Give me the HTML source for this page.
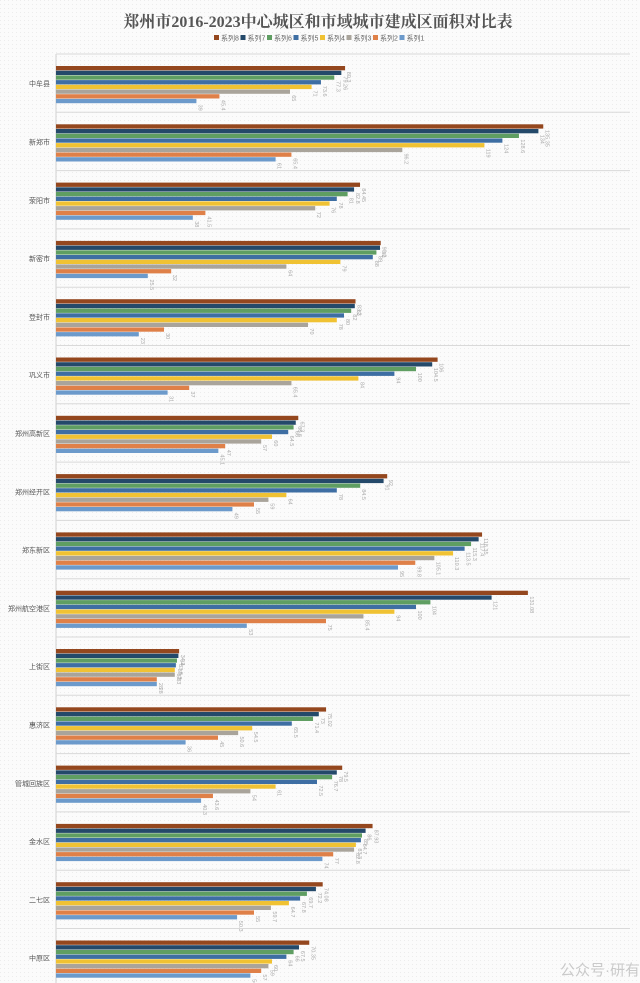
<!DOCTYPE html>
<html><head><meta charset="utf-8"><style>
html,body{margin:0;padding:0;background:#fff;}
body{width:640px;height:983px;overflow:hidden;font-family:"Liberation Sans","Noto Sans CJK SC",sans-serif;}
svg{display:block}
</style></head><body>
<svg id="chart" width="640" height="983" viewBox="0 0 640 983" xmlns="http://www.w3.org/2000/svg">
<defs><pattern id="dots" width="4" height="4" patternUnits="userSpaceOnUse"><rect width="4" height="4" fill="#fbfbfb"/><rect width="1" height="1" fill="#ececec"/></pattern></defs>
<rect x="0" y="0" width="640" height="983" fill="url(#dots)"/>
<text x="318" y="27" text-anchor="middle" font-size="16" font-weight="bold" fill="#555" font-family="'Liberation Serif','Noto Serif CJK SC',serif">郑州市2016-2023中心城区和市域城市建成区面积对比表</text>
<g id="legend"></g>
<g id="plot"></g>
<text x="600" y="975" text-anchor="middle" font-size="15" fill="#aaa" opacity="0.6">公众号·研有</text>
</svg>
<script>
const categories=["中牟县","新郑市","荥阳市","新密市","登封市","巩义市","郑州高新区","郑州经开区","郑东新区","郑州航空港区","上街区","惠济区","管城回族区","金水区","二七区","中原区"];
const seriesNames=["系列8","系列7","系列6","系列5","系列4","系列3","系列2","系列1"];
const s8=[80.3,135.35,84.45,90.2,83.2,106,67.3,92,118.35,131.08,34.2,75.02,79.5,87.93,74.08,70.35];
const s7=[79.26,134,82.8,90,83,104.5,66.6,91,117.4,121,34,73,78,86,72.2,67.5];
const s6=[77.3,128.6,81,89,82,100,66,84.5,115.3,104,33.6,71.4,76.7,85,69.7,66];
const s5=[73.6,124,78,88,80,94,64.5,78,113.5,100,33.3,65.5,72.5,84.7,67.8,64];
const s4=[71,119,76,79,78,84,60,64,110.3,94,33,54.5,61,83.3,64.7,60];
const s3=[65,96.2,72,64,70,65.4,57,59,105.1,85.4,33,50.6,54,82.8,59.7,59];
const s2=[45.4,65.4,41.5,32,30,37,47,55,99.8,75,28,45,43.6,77,55,57];
const s1=[39,61,38,25.5,23,31,45.1,49,95,53,28,36,40.3,74,50.3,54];
const seriesValues=[s8,s7,s6,s5,s4,s3,s2,s1];
const colors=["#94471e","#24496a","#5f9e62","#3e6ea3","#f0c233","#a9a49b","#df8048","#6c9acb"];
const NS="http://www.w3.org/2000/svg";
const x0=56, xs=3.6, top0=54, gh=58.3, bh=4.7, boff=12;
const X=v=>x0+v*xs;
const GY=i=>top0+i*gh;
function mk(t,a,p){const e=document.createElementNS(NS,t);for(const k in a)e.setAttribute(k,a[k]);p.appendChild(e);return e;}
const plot=document.getElementById('plot');
const leg=document.getElementById('legend');
let lx=214;
seriesNames.forEach((n,i)=>{
  const r=mk('rect',{x:lx,y:35,width:5,height:5,fill:colors[i]},leg);
  
  
  const t=mk('text',{x:lx+7,y:40.5,'font-size':7,fill:'#666'},leg);
  t.textContent=n;
  
  
  lx+=26.5;
});
const ax=mk('line',{x1:x0,y1:top0,x2:x0,y2:983,stroke:'#d0d0d0','stroke-width':1},plot);


categories.forEach((c,i)=>{
  const sep=mk('line',{x1:x0,y1:GY(i),x2:630,y2:GY(i),stroke:'#d9d9d9','stroke-width':1},plot);
  
  
  const lab=mk('text',{x:50,y:GY(i)+gh/2+3,'text-anchor':'end','font-size':7,fill:'#555'},plot);
  lab.textContent=c;
  
  
  seriesValues.forEach((arr,j)=>{
    const y=GY(i)+boff+j*bh;
    const b=mk('rect',{x:x0,y:y,width:X(arr[i])-x0,height:bh-0.4,fill:colors[j]},plot);
    
    
    const tx=X(arr[i])+2, ty=y+bh+1;
    const t=mk('text',{x:tx,y:ty,'font-size':5.5,fill:'#aaa',transform:'rotate(90 '+tx+' '+ty+')'},plot);
    t.textContent=arr[i];
    
    
  });
});
</script>
</body></html>
